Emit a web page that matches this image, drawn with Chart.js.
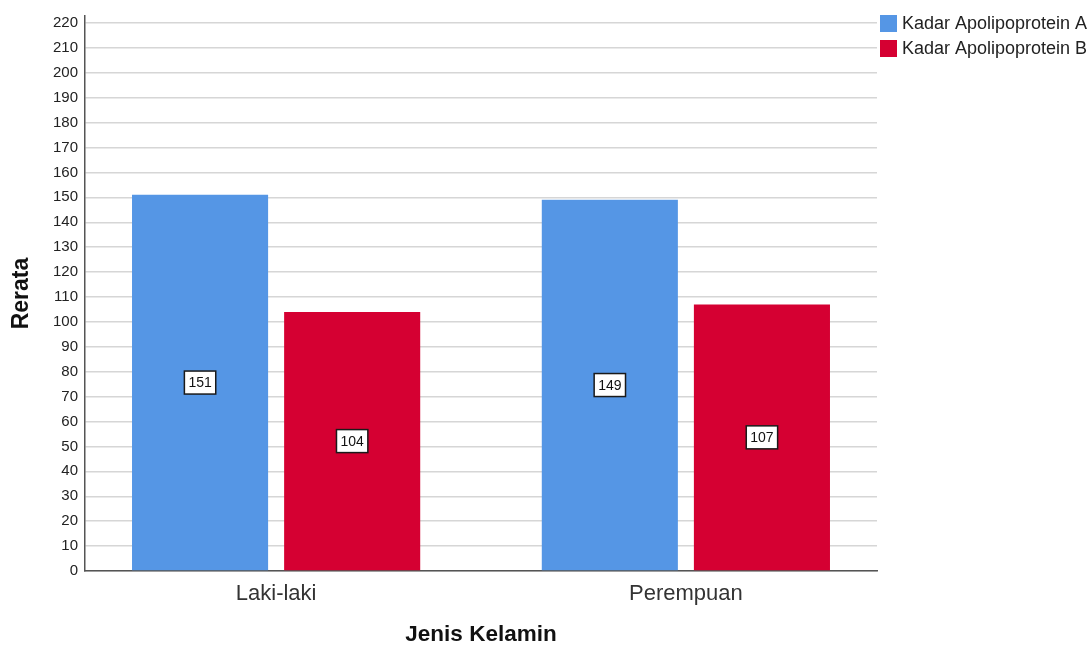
<!DOCTYPE html>
<html>
<head>
<meta charset="utf-8">
<script src="https://cdn.jsdelivr.net/npm/chart.js@4/dist/chart.umd.min.js"></script>
<style>
  html, body { margin: 0; padding: 0; background: #fff; }
  #wrap { width: 1091px; height: 646px; position: relative; }
</style>
</head>
<body>
<div id="wrap"><canvas id="rerataChart"></canvas></div>
<script>
var categories = ['Laki-laki', 'Perempuan'];
var seriesNames = ['Kadar Apolipoprotein A', 'Kadar Apolipoprotein B'];
var apoA = [151, 149];
var apoB = [104, 107];
var seriesColors = ['#5596e5', '#d50032'];
var yTicks = [0, 10, 20, 30, 40, 50, 60, 70, 80, 90, 100, 110, 120, 130, 140, 150, 160, 170, 180, 190, 200, 210, 220];

var fontFam = '"Liberation Sans", Arial, sans-serif';

function toPoints(values) {
	return values.map(function(v, i) { return { x: i, y: v }; });
}

// white boxes with the value, in the middle of each bar
var valueBoxes = {
	id: 'valueBoxes',
	afterDatasetsDraw: function(chart) {
		var ctx = chart.ctx;
		ctx.save();
		ctx.font = '14px ' + fontFam;
		ctx.textAlign = 'center';
		ctx.textBaseline = 'middle';
		chart.data.datasets.forEach(function(ds, d) {
			chart.getDatasetMeta(d).data.forEach(function(bar, i) {
				var cx = bar.x;
				var cy = (bar.y + bar.base) / 2;
				var txt = String(ds.data[i].y);
				var w = ctx.measureText(txt).width + 8;
				var h = 23;
				ctx.fillStyle = '#fff';
				ctx.fillRect(cx - w / 2, cy - h / 2, w, h);
				ctx.lineWidth = 1.5;
				ctx.strokeStyle = '#1a1a1a';
				ctx.strokeRect(cx - w / 2, cy - h / 2, w, h);
				ctx.fillStyle = '#111';
				ctx.fillText(txt, cx, cy + 1);
			});
		});
		ctx.restore();
	}
};

// legend in the top right corner
var sideLegend = {
	id: 'sideLegend',
	afterDraw: function(chart) {
		var ctx = chart.ctx;
		ctx.save();
		ctx.font = '18px ' + fontFam;
		ctx.textBaseline = 'middle';
		chart.data.datasets.forEach(function(ds, d) {
			var y = 23 + d * 25;
			ctx.fillStyle = ds.backgroundColor;
			ctx.fillRect(880, y - 8, 17, 17);
			ctx.fillStyle = '#222';
			ctx.fillText(ds.label, 902, y + 1);
		});
		ctx.restore();
	}
};

var ctx = document.getElementById('rerataChart').getContext('2d');
var myChart = new Chart(ctx, {
	type: 'bar',
	data: {
		datasets: [{
			label: seriesNames[0],
			data: toPoints(apoA),
			backgroundColor: seriesColors[0]
		}, {
			label: seriesNames[1],
			data: toPoints(apoB),
			backgroundColor: seriesColors[1]
		}]
	},
	options: {
		responsive: true,
		maintainAspectRatio: false,
		animation: false,
		categoryPercentage: 0.7424,
		barPercentage: 0.8947,
		layout: { padding: { left: 0, right: 214, top: 12, bottom: 0 } },
		plugins: {
			legend: { display: false },
			tooltip: { enabled: false }
		},
		scales: {
			x: {
				type: 'linear',
				offset: false,
				min: -0.4664,
				max: 1.4664,
				afterBuildTicks: function(scale) {
					scale.ticks = categories.map(function(c, i) { return { value: i }; });
				},
				afterFit: function(scale) { scale.height = 75; },
				grid: { display: false, drawTicks: false, offset: false },
				border: { display: true, color: '#555', width: 1.5 },
				ticks: {
					padding: 10,
					color: '#333',
					font: { family: fontFam, size: 22 },
					callback: function(v) { return categories[v]; }
				},
				title: {
					display: true,
					text: 'Jenis Kelamin',
					color: '#111',
					padding: { top: 0, bottom: 0 },
					font: { family: fontFam, size: 22.5, weight: 'bold', lineHeight: 1 }
				}
			},
			y: {
				min: 0,
				max: 222.8,
				afterBuildTicks: function(scale) {
					scale.ticks = yTicks.map(function(v) { return { value: v }; });
				},
				afterFit: function(scale) { scale.width = 85; },
				grid: { color: '#d6d6d6', lineWidth: 1.5, drawTicks: false },
				border: { display: true, color: '#555', width: 1.5 },
				ticks: {
					padding: 7,
					color: '#222',
					font: { family: fontFam, size: 15 }
				},
				title: {
					display: true,
					text: 'Rerata',
					color: '#111',
					padding: { top: 10, bottom: 0 },
					font: { family: fontFam, size: 23, weight: 'bold', lineHeight: 1 }
				}
			}
		}
	},
	plugins: [valueBoxes, sideLegend]
});
</script>
</body>
</html>
